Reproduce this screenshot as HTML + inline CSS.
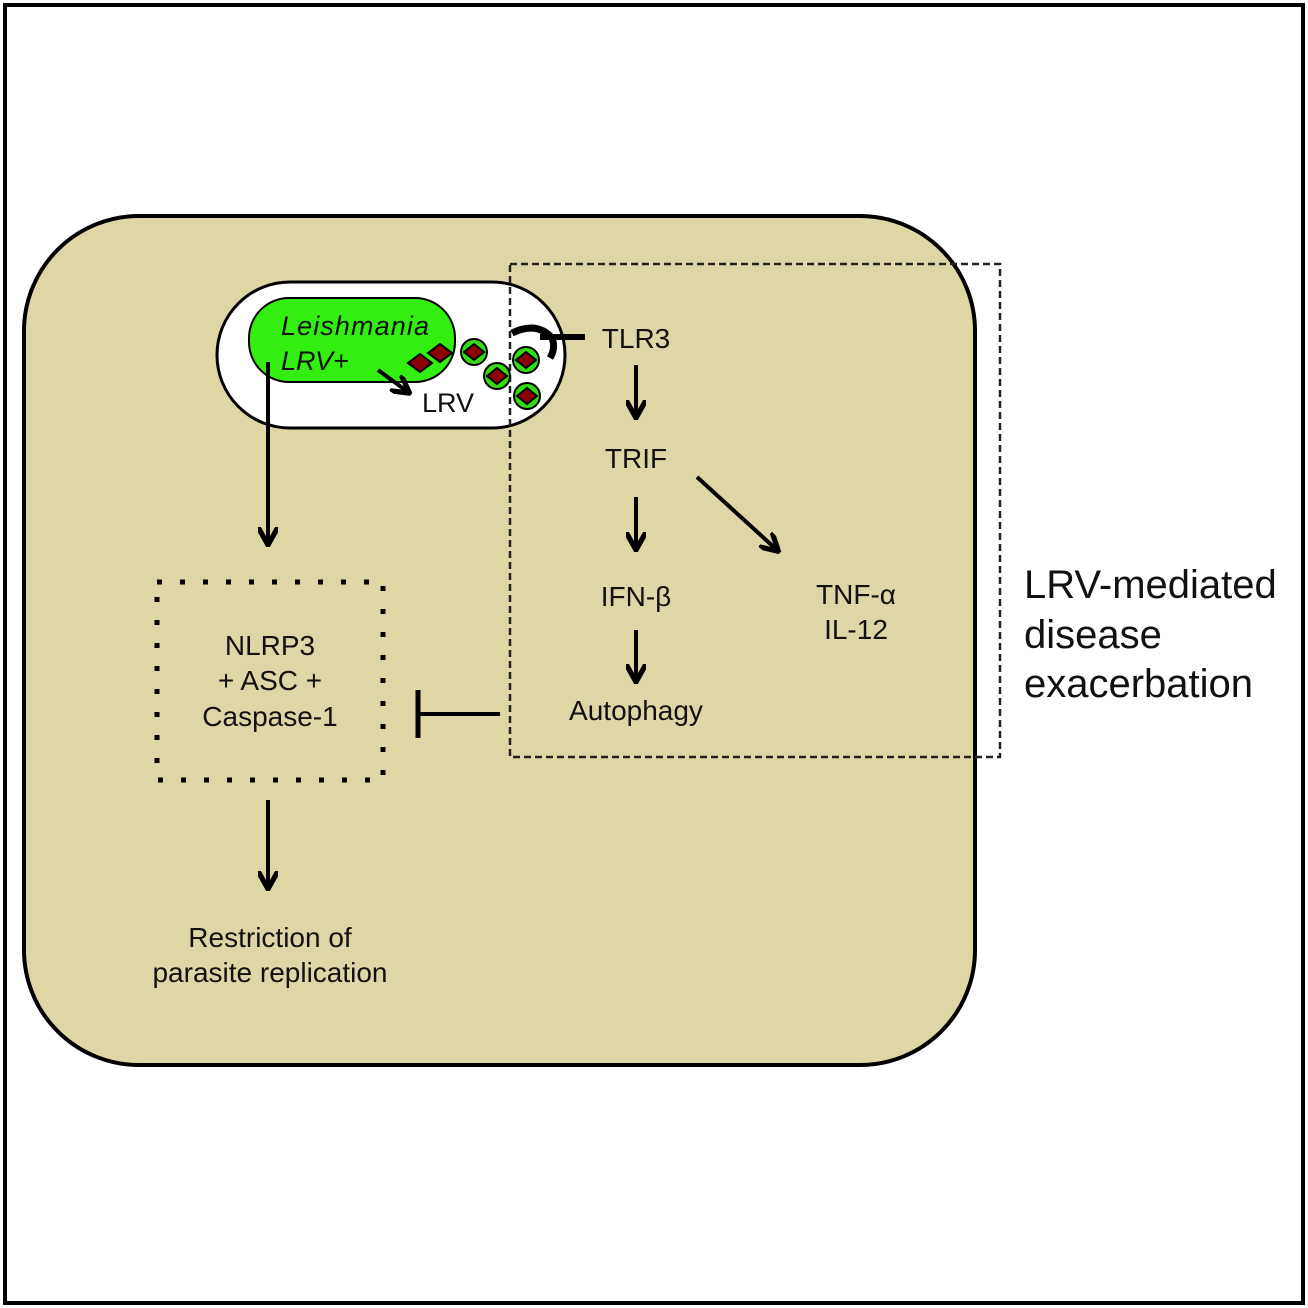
<!DOCTYPE html>
<html><head><style>body{margin:0;background:#fff}svg{display:block}text{font-family:"Liberation Sans",sans-serif;fill:#111}</style></head><body>
<svg width="1308" height="1308" viewBox="0 0 1308 1308">
<defs><marker id="a" viewBox="0 0 10 10" refX="8" refY="5" markerWidth="5" markerHeight="5" orient="auto"><path d="M0,0 L9,5 L0,10" fill="none" stroke="#000" stroke-width="2.6"/></marker></defs>
<rect x="5" y="5" width="1298" height="1298" fill="#fff" stroke="#000" stroke-width="4"/>
<rect x="24" y="216" width="951" height="849" rx="115" fill="#dfd6a5" stroke="#000" stroke-width="4"/>
<rect x="217" y="282" width="348" height="146" rx="73" fill="#fff" stroke="#000" stroke-width="3"/>
<rect x="249" y="298" width="206" height="84" rx="40" fill="#33ee11" stroke="#000" stroke-width="2"/>
<rect x="510" y="264" width="490" height="493" fill="none" stroke="#222" stroke-width="2.5" stroke-dasharray="7,4"/>
<rect x="157" y="582" width="226" height="198" fill="none" stroke="#000" stroke-width="5" stroke-dasharray="5,18"/>
<text x="281" y="335" font-size="27" font-style="italic" textLength="148">Leishmania</text>
<text x="281" y="370" font-size="27" font-style="italic">LRV+</text>
<text x="422" y="412" font-size="27">LRV</text>
<g stroke="#000" stroke-width="2">
<path d="M408,363 l12,-9 12,9 -12,9z" fill="#8b0000"/><path d="M428,353 l12,-9 12,9 -12,9z" fill="#8b0000"/>
<g fill="#33dd11"><circle cx="474" cy="352" r="13"/><circle cx="497" cy="376" r="13"/><circle cx="526" cy="360" r="13"/><circle cx="527" cy="396" r="13"/></g>
<g fill="#8b0000"><path d="M464,352 l10,-8 10,8 -10,8z"/><path d="M487,376 l10,-8 10,8 -10,8z"/><path d="M516,360 l10,-8 10,8 -10,8z"/><path d="M517,396 l10,-8 10,8 -10,8z"/></g>
</g>
<path d="M512,333 q25,-12 40,5 q4,10 -2,20" fill="none" stroke="#000" stroke-width="7"/>
<line x1="540" y1="337" x2="585" y2="337" stroke="#000" stroke-width="6"/>
<g stroke="#000" stroke-width="4" fill="none" marker-end="url(#a)">
<line x1="378" y1="370" x2="408" y2="392"/>
<line x1="268" y1="362" x2="268" y2="543"/>
<line x1="636" y1="365" x2="636" y2="416"/>
<line x1="636" y1="497" x2="636" y2="548"/>
<line x1="636" y1="630" x2="636" y2="680"/>
<line x1="697" y1="477" x2="777" y2="550"/>
<line x1="268" y1="800" x2="268" y2="887"/>
</g>
<line x1="500" y1="714" x2="418" y2="714" stroke="#000" stroke-width="4"/>
<line x1="418" y1="690" x2="418" y2="738" stroke="#000" stroke-width="5"/>
<g font-size="28" text-anchor="middle">
<text x="636" y="348">TLR3</text>
<text x="636" y="468">TRIF</text>
<text x="636" y="606">IFN-β</text>
<text x="636" y="720">Autophagy</text>
<text x="856" y="604">TNF-α</text>
<text x="856" y="639">IL-12</text>
<text x="270" y="655">NLRP3</text>
<text x="270" y="690">+ ASC +</text>
<text x="270" y="726">Caspase-1</text>
<text x="270" y="947">Restriction of</text>
<text x="270" y="982">parasite replication</text>
</g>
<g font-size="40"><text x="1024" y="598">LRV-mediated</text><text x="1024" y="648">disease</text><text x="1024" y="697">exacerbation</text></g>
</svg>
</body></html>
